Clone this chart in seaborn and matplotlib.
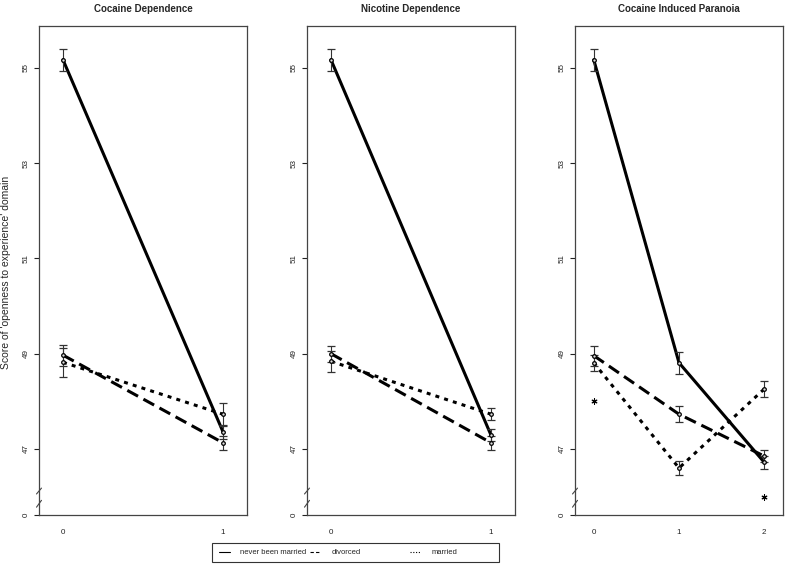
import numpy as np
import pandas as pd
import seaborn as sns
import matplotlib
matplotlib.use("Agg")
import matplotlib.pyplot as plt
from matplotlib.lines import Line2D
from matplotlib.patches import Rectangle

# ---- data ----
groups = ['never been married', 'divorced', 'married']
panel_titles = ['Cocaine Dependence', 'Nicotine Dependence', 'Cocaine Induced Paranoia']

dep_levels = [0, 1]
para_levels = [0, 1, 2]

cocaine_never = [55.17, 47.36]
cocaine_never_err = [0.23, 0.15]
cocaine_divorced = [48.97, 47.13]
cocaine_divorced_err = [0.22, 0.15]
cocaine_married = [48.82, 47.73]
cocaine_married_err = [0.30, 0.24]

nicotine_never = [55.17, 47.29]
nicotine_never_err = [0.23, 0.13]
nicotine_divorced = [49.00, 47.13]
nicotine_divorced_err = [0.17, 0.15]
nicotine_married = [48.84, 47.73]
nicotine_married_err = [0.22, 0.13]

paranoia_never = [55.17, 48.81, 46.72]
paranoia_never_err = [0.23, 0.23, 0.14]
paranoia_divorced = [48.96, 47.73, 46.85]
paranoia_divorced_err = [0.21, 0.17, 0.13]
paranoia_married = [48.81, 46.60, 48.26]
paranoia_married_err = [0.17, 0.15, 0.16]

# significance markers (asterisks) in the paranoia panel
paranoia_sig_x = [0, 2]
paranoia_sig_y = [48.0, 46.0]

y_ticks = [47, 49, 51, 53, 55]
y_floor = 45.614          # position drawn as "0" below the axis break
y_top = 55.88

panels = [
    (dep_levels, [cocaine_never, cocaine_divorced, cocaine_married],
     [cocaine_never_err, cocaine_divorced_err, cocaine_married_err]),
    (dep_levels, [nicotine_never, nicotine_divorced, nicotine_married],
     [nicotine_never_err, nicotine_divorced_err, nicotine_married_err]),
    (para_levels, [paranoia_never, paranoia_divorced, paranoia_married],
     [paranoia_never_err, paranoia_divorced_err, paranoia_married_err]),
]

sns.set_style("white")
plt.rcParams['font.family'] = ['Liberation Sans', 'DejaVu Sans']

W, H = 787, 567
fig = plt.figure(figsize=(W / 100, H / 100), dpi=100)

dash_map = {'never been married': '', 'divorced': (4, 2), 'married': (1.3, 1.7)}
LW = 2.2

for i, (levels, series, errs) in enumerate(panels):
    left_px = 39 + 268 * i
    ax = fig.add_axes([left_px / W, (H - 515) / H, 208 / W, (515 - 26) / H])

    rows = []
    for g, vals in zip(groups, series):
        for xv, yv in zip(levels, vals):
            rows.append({'level': xv, 'score': yv, 'status': g})
    df = pd.DataFrame(rows)

    sns.lineplot(data=df, x='level', y='score', style='status', style_order=groups,
                 dashes=dash_map, color='black', linewidth=LW, legend=False,
                 errorbar=None, ax=ax)

    for g, vals, err in zip(groups, series, errs):
        ax.errorbar(levels, vals, yerr=err, fmt='o', color='#333333', ms=2.6,
                    mfc='#dddddd', mec='black', mew=0.9, elinewidth=0.8,
                    capsize=3, capthick=0.8, zorder=3)

    if i == 2:
        ax.scatter(paranoia_sig_x, paranoia_sig_y, marker=(6, 2, 0), s=14,
                   color='black', linewidths=0.8, zorder=3)

    nlev = len(levels)
    margin = 0.15 if nlev == 2 else 0.22
    ax.set_xlim(-margin, levels[-1] + margin)
    ax.set_ylim(y_floor, y_top)
    ax.set_xticks(levels)
    ax.set_xticklabels([str(v) for v in levels])
    ax.set_yticks([y_floor] + y_ticks)
    ax.set_yticklabels(['0'] + [str(v) for v in y_ticks], rotation=90, va='center')
    ax.tick_params(axis='x', length=0, pad=10, labelsize=5.8, colors='#222222')
    ax.tick_params(axis='y', left=True, direction='out', length=3.6, width=0.8,
                   pad=3, labelsize=5.8, colors='#222222')
    ax.set_xlabel('')
    ax.set_ylabel('')
    for sp in ax.spines.values():
        sp.set_visible(True)
        sp.set_color('#444444')
        sp.set_linewidth(0.9)
    ax.set_title(panel_titles[i], fontsize=7, fontweight='bold', pad=10)

    # axis break marks
    for y0, y1 in [(0.055, 0.043), (0.030, 0.016)]:
        ax.plot([0.012, -0.012], [y0, y1], transform=ax.transAxes, color='#444444',
                lw=0.8, clip_on=False)

fig.text(6 / W, 1 - 272 / H, "Score of 'openness to experience' domain",
         rotation=90, ha='center', va='center', fontsize=7.5)

# legend: one frame, three equally spaced entries
fig.add_artist(Rectangle((212 / W, 5 / H), 287 / W, 19 / H, transform=fig.transFigure,
                         fill=False, edgecolor='#333333', lw=0.8))
leg_styles = {'never been married': '-', 'divorced': (0, (3, 2)), 'married': (0, (1, 1.5))}
for g, x_px in zip(groups, [219, 310, 410]):
    h = Line2D([0], [0], color='black', lw=0.8, linestyle=leg_styles[g])
    fig.legend(handles=[h], labels=[g], loc='center left',
               bbox_to_anchor=(x_px / W, 1 - 552.5 / H), frameon=False,
               fontsize=5.5, handlelength=1.5, handletextpad=1.3,
               borderpad=0, borderaxespad=0)

fig.savefig('out.png', dpi=100)
